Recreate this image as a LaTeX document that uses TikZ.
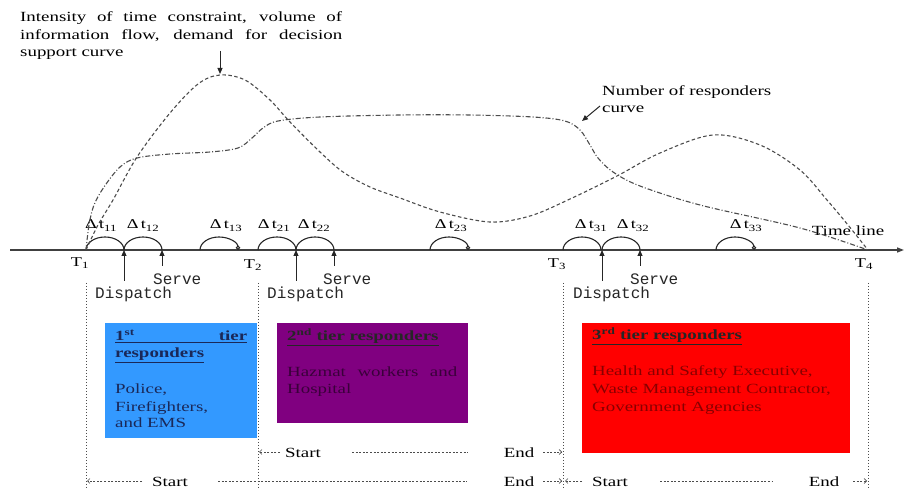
\documentclass[tikz,border=0pt]{standalone}
\usepackage{fontspec}
\setmainfont{Liberation Serif}[FakeStretch=1.35]
\newfontfamily\labelfont{Liberation Mono}
\usetikzlibrary{arrows.meta}

\definecolor{tierone}{HTML}{3399FF}
\definecolor{tiertwo}{HTML}{800080}
\definecolor{tierthree}{HTML}{FF0000}
\definecolor{tieronetext}{HTML}{1A2858}
\definecolor{tiertwotext}{HTML}{3A003A}
\definecolor{tierthreetext}{HTML}{880000}

% interval label: Delta t with a two-digit index
\newcommand{\dtlabel}[1]{{\fontsize{13.5}{15}\selectfont Δ\,t\textsubscript{\fontsize{9.5}{10}\selectfont #1}}}
\newcommand{\tplabel}[1]{{\fontsize{13.5}{15}\selectfont T\textsubscript{\fontsize{9.5}{10}\selectfont #1}}}

\begin{document}
\begin{tikzpicture}[x=1pt,y=-1pt,
  txt/.style={font=\fontsize{14}{17}\selectfont, inner sep=0pt},
  mono/.style={font=\labelfont\fontsize{16}{18}\selectfont, inner sep=0pt, text=black!85},
  timeline/.style={draw=black!75, line width=1.4pt, -{Triangle[length=7pt,width=5pt]}},
  interval/.style={draw=black!85, line width=1.1pt},
  pointer/.style={draw=black!85, line width=1pt, -{Triangle[length=6pt,width=5pt]}},
  guide/.style={draw=black!70, line width=0.8pt, dash pattern=on 1.3pt off 1.7pt},
  span/.style={draw=black!70, line width=0.7pt, dash pattern=on 2pt off 1.6pt},
  spantip/.style={span, -{Straight Barb[length=2.5pt,width=5pt]}},
  demand/.style={draw=black!70, line width=1.1pt, dash pattern=on 3.5pt off 2.5pt},
  responders/.style={draw=black!70, line width=1.1pt, dash pattern=on 5pt off 2pt on 1pt off 2pt},
  tierbox/.style={inner sep=0pt, anchor=north west},
]
\useasboundingbox (0,0) rectangle (906,489);

% ---------- time line and time points ----------
\coordinate (tlstart) at (10,250);
\coordinate (tlend) at (904,250);
\coordinate (T1) at (86,250);
\coordinate (T2) at (258,250);
\coordinate (T3) at (563,250);
\coordinate (T4) at (868,250);
\draw[timeline] (tlstart) -- (tlend);

\node[inner sep=0pt] (lT1) at (80,263) {\tplabel{1}};
\node[inner sep=0pt] (lT2) at (253,265) {\tplabel{2}};
\node[inner sep=0pt] (lT3) at (557,264) {\tplabel{3}};
\node[inner sep=0pt] (lT4) at (864,264) {\tplabel{4}};
\node[txt, anchor=base] (tlabel) at (848,236) {Time line};

% ---------- intervals ----------
\coordinate (D1) at (124,250); \coordinate (S1) at (162,250); \coordinate (E1) at (200,250);
\coordinate (D2) at (296,250); \coordinate (S2) at (334,250); \coordinate (E2) at (430,250);
\coordinate (D3) at (602,250); \coordinate (S3) at (640,250); \coordinate (E3) at (716,250);

\foreach \a in {T1,D1,T2,D2,T3,D3}
  \draw[interval] (\a) arc[start angle=180, end angle=0, x radius=19pt, y radius=13pt];
\foreach \a in {E1,E2,E3}
  \draw[interval, -{Circle[open,length=4.5pt]}] (\a) arc[start angle=180, end angle=0, x radius=19pt, y radius=13pt];

\node[anchor=base] (dt11) at (101,229) {\dtlabel{11}};
\node[anchor=base] (dt12) at (143,229) {\dtlabel{12}};
\node[anchor=base] (dt13) at (226,229) {\dtlabel{13}};
\node[anchor=base] (dt21) at (274,229) {\dtlabel{21}};
\node[anchor=base] (dt22) at (314,229) {\dtlabel{22}};
\node[anchor=base] (dt23) at (451,229) {\dtlabel{23}};
\node[anchor=base] (dt31) at (591,229) {\dtlabel{31}};
\node[anchor=base] (dt32) at (633,229) {\dtlabel{32}};
\node[anchor=base] (dt33) at (746,229) {\dtlabel{33}};

% ---------- dispatch and serve events ----------
\coordinate (fD1) at (124,281); \coordinate (fS1) at (162,266);
\coordinate (fD2) at (296,281); \coordinate (fS2) at (334,266);
\coordinate (fD3) at (602,281); \coordinate (fS3) at (640,266);
\foreach \n in {1,2,3} {
  \draw[pointer] (fD\n) -- (D\n);
  \draw[pointer] (fS\n) -- (S\n);
}
\node[mono, anchor=base west] (disp1) at (95,299) {Dispatch};
\node[mono, anchor=base west] (serv1) at (153,285) {Serve};
\node[mono, anchor=base west] (disp2) at (267,299) {Dispatch};
\node[mono, anchor=base west] (serv2) at (323,285) {Serve};
\node[mono, anchor=base west] (disp3) at (573,299) {Dispatch};
\node[mono, anchor=base west] (serv3) at (630,285) {Serve};

% ---------- phase boundaries ----------
\foreach \n/\x in {1/86,2/258,3/563,4/868} {
  \coordinate (gtop\n) at (\x,283);
  \coordinate (gbot\n) at (\x,489);
  \draw[guide] (gtop\n) -- (gbot\n);
}

% ---------- curves ----------
\draw[demand] plot[smooth, tension=0.55] coordinates {
  (86,250) (98,225) (113,200) (137,157) (170,113) (198,84) (220,75) (245,80)
  (270,100) (290,122) (320,152) (343,172) (370,187) (400,198) (440,212)
  (490,222) (530,216) (570,199) (617,176) (660,153) (713,135) (760,145)
  (800,170) (827,200) (848,225) (868,250)};
\draw[responders] plot[smooth, tension=0.55] coordinates {
  (86,250) (89,225) (94,205) (104,187) (120,167) (137,158) (170,154) (210,152)
  (238,148) (252,138) (263,128) (278,121) (320,117) (400,115) (470,115)
  (533,117) (565,121) (580,130) (590,145) (598,158) (613,172) (640,186)
  (700,205) (800,228) (868,250)};

\node[txt, anchor=base west] (intensity1) at (20,22) {\makebox[322pt][s]{Intensity of time constraint, volume of}};
\node[txt, anchor=base west] (intensity2) at (20,40) {\makebox[322pt][s]{information flow, demand for decision}};
\node[txt, anchor=base west] (intensity3) at (20,57) {support curve};
\coordinate (peak) at (220,74);
\draw[pointer] (220,51) -- (peak);

\node[txt, anchor=base west] (resp1) at (602,96) {Number of responders};
\node[txt, anchor=base west] (resp2) at (602,113) {curve};
\coordinate (respcurve) at (582,121);
\draw[pointer] (600,106) -- (respcurve);

% ---------- responder tiers ----------
\node[tierbox, fill=tierone, minimum width=152pt, minimum height=115pt] (tier1) at (105,323) {};
\node[tierbox, fill=tiertwo, minimum width=191pt, minimum height=100pt] (tier2) at (277,323) {};
\node[tierbox, fill=tierthree, minimum width=268pt, minimum height=130pt] (tier3) at (582,323) {};

\begin{scope}[every node/.style={txt, anchor=base west}]
  \node[text=tieronetext, font=\fontsize{14}{17}\selectfont\bfseries] (t1a) at (115,341) {\underline{\makebox[132pt][s]{1\textsuperscript{st} tier}}};
  \node[text=tieronetext, font=\fontsize{14}{17}\selectfont\bfseries] (t1b) at (115,358) {\underline{responders}};
  \node[text=tieronetext] (t1c) at (115,394) {Police,};
  \node[text=tieronetext] (t1d) at (115,411) {Firefighters,};
  \node[text=tieronetext] (t1e) at (115,428) {and EMS};

  \node[text=black!85, font=\fontsize{14}{17}\selectfont\bfseries] (t2a) at (287,341) {\underline{2\textsuperscript{nd} tier responders}};
  \node[text=tiertwotext] (t2b) at (287,377) {\makebox[170pt][s]{Hazmat workers and}};
  \node[text=tiertwotext] (t2c) at (287,394) {Hospital};

  \node[text=black!85, font=\fontsize{14}{17}\selectfont\bfseries] (t3a) at (592,340) {\underline{3\textsuperscript{rd} tier responders}};
  \node[text=tierthreetext] (t3b) at (592,376) {Health and Safety Executive,};
  \node[text=tierthreetext] (t3c) at (592,393) {Waste Management Contractor,};
  \node[text=tierthreetext] (t3d) at (592,411) {Government Agencies};
\end{scope}

% ---------- start / end spans ----------
\begin{scope}[every node/.style={txt, anchor=base}]
  \node (s2start) at (303,457) {Start};
  \node (s2end) at (519,457) {End};
  \node (s1start) at (170,486) {Start};
  \node (s1end) at (519,486) {End};
  \node (s3start) at (610,486) {Start};
  \node (s3end) at (824,486) {End};
\end{scope}
\coordinate (r1a) at (280,452); \coordinate (r1b) at (259,452);
\coordinate (r1c) at (352,452); \coordinate (r1d) at (468,452);
\coordinate (r1e) at (543,452); \coordinate (r1f) at (562,452);
\draw[spantip] (r1a) -- (r1b);
\draw[span] (r1c) -- (r1d);
\draw[spantip] (r1e) -- (r1f);

\coordinate (r2a) at (142,481); \coordinate (r2b) at (87,481);
\coordinate (r2c) at (218,481); \coordinate (r2d) at (467,481);
\coordinate (r2e) at (543,481); \coordinate (r2f) at (562,481);
\coordinate (r2g) at (582,481); \coordinate (r2h) at (565,481);
\coordinate (r2i) at (660,481); \coordinate (r2j) at (772,481);
\coordinate (r2k) at (853,481); \coordinate (r2l) at (867,481);
\draw[spantip] (r2a) -- (r2b);
\draw[span] (r2c) -- (r2d);
\draw[spantip] (r2e) -- (r2f);
\draw[spantip] (r2g) -- (r2h);
\draw[span] (r2i) -- (r2j);
\draw[spantip] (r2k) -- (r2l);
\end{tikzpicture}
\end{document}
